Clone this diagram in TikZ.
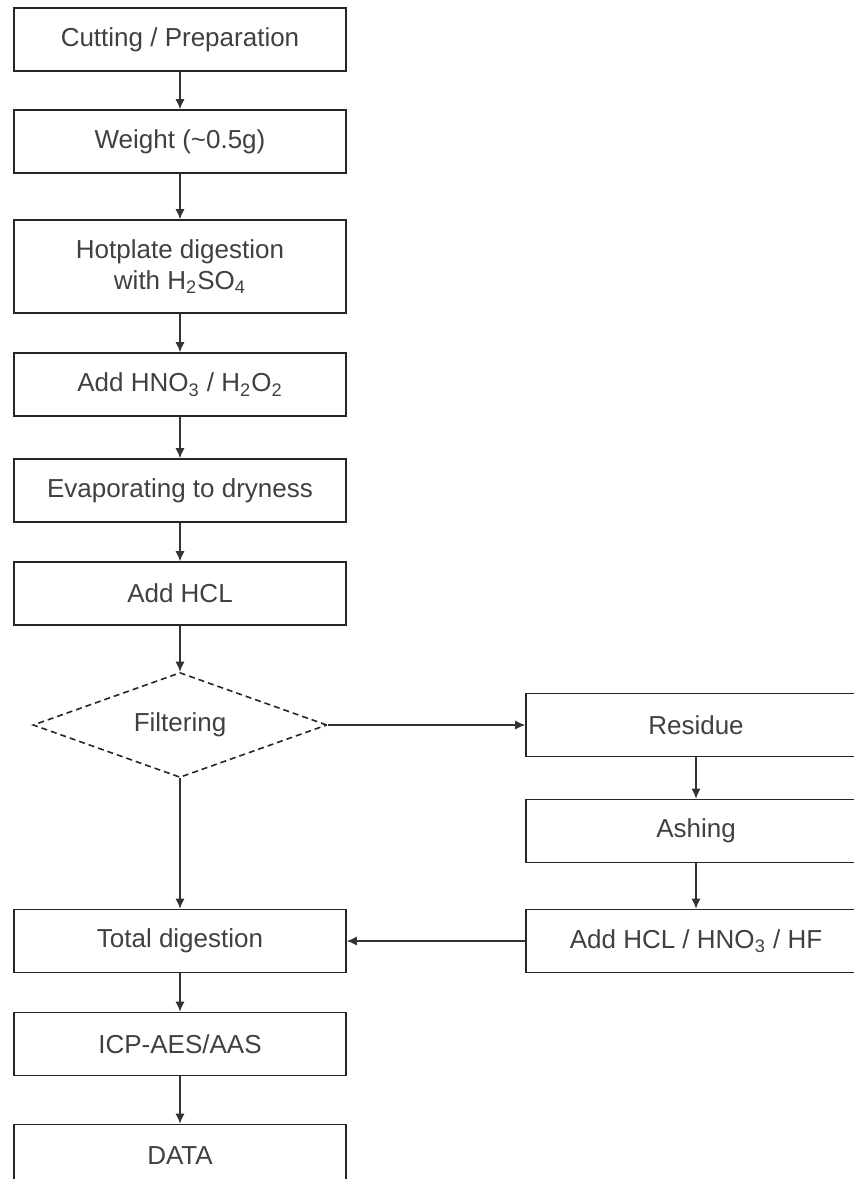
\documentclass[tikz,border=0pt]{standalone}
\usepackage{fontspec}
\setmainfont{Liberation Sans}
\usetikzlibrary{shapes.geometric, arrows.meta}

\begin{document}
\begin{tikzpicture}[
  >={Latex[length=5pt,width=4.5pt]},
  node distance=51pt,
  stepbox/.style={rectangle, draw=black!85, thick, minimum width=166pt, minimum height=31.5pt, text=black!75, font=\fontsize{13}{15.5}\selectfont, align=center},
  sidebox/.style={stepbox, minimum width=170pt},
  decision/.style={diamond, draw=black!85, densely dashed, thick, aspect=2.8, inner sep=0pt, minimum width=147pt, minimum height=52.5pt, text=black!75, font=\fontsize{13}{15.5}\selectfont},
  flow/.style={->, black!80, semithick}
]
\useasboundingbox (0,0) rectangle (426.5pt,-589.5pt);

\node[stepbox] (cut) at (90pt,-19.75pt) {Cutting / Preparation};
\node[stepbox, below of=cut] (weight) {Weight (\textasciitilde0.5g)};
\node[stepbox, below of=weight, node distance=62.5pt, minimum height=46.5pt] (hotplate) {Hotplate digestion\\with H\textsubscript{2}SO\textsubscript{4}};
\node[stepbox, below of=hotplate, node distance=59pt] (hno) {Add HNO\textsubscript{3} / H\textsubscript{2}O\textsubscript{2}};
\node[stepbox, below of=hno, node distance=53pt] (evap) {Evaporating to dryness};
\node[stepbox, below of=evap, node distance=51.5pt] (hcl) {Add HCL};
\node[decision, below of=hcl, node distance=65.75pt] (filter) {Filtering};
\node[stepbox, below of=filter, node distance=108pt] (total) {Total digestion};
\node[stepbox, below of=total, node distance=51.5pt] (icp) {ICP-AES/AAS};
\node[stepbox, below of=icp, node distance=56pt] (data) {DATA};

% residue branch, cut off at the right edge
\node[sidebox, right of=filter, node distance=258pt] (residue) {Residue};
\node[sidebox, below of=residue, node distance=53pt] (ashing) {Ashing};
\node[sidebox, below of=ashing, node distance=55pt] (mix) {Add HCL / HNO\textsubscript{3} / HF};

\draw[flow] (cut) -- (weight);
\draw[flow] (weight) -- (hotplate);
\draw[flow] (hotplate) -- (hno);
\draw[flow] (hno) -- (evap);
\draw[flow] (evap) -- (hcl);
\draw[flow] (hcl) -- (filter);
\draw[flow] (filter) -- (total);
\draw[flow] (total) -- (icp);
\draw[flow] (icp) -- (data);
\draw[flow] (filter) -- (residue);
\draw[flow] (residue) -- (ashing);
\draw[flow] (ashing) -- (mix);
\draw[flow] (mix) -- (total);
\end{tikzpicture}
\end{document}
